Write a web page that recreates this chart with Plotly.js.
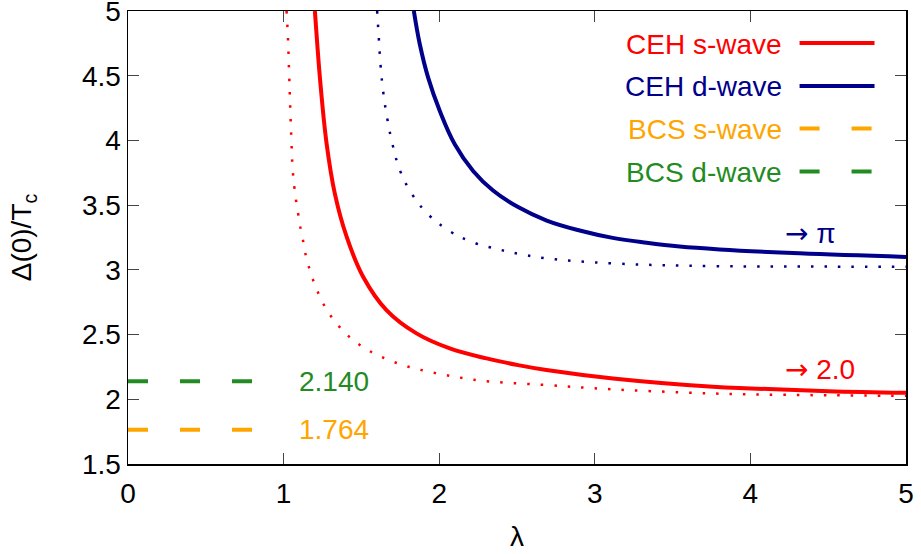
<!DOCTYPE html>
<html>
<head>
<meta charset="utf-8">
<script src="https://cdn.plot.ly/plotly-3.0.1.min.js"></script>
<style>html,body{margin:0;padding:0;background:#fff;}#chart{width:921px;height:554px;}</style>
</head>
<body>
<div id="chart"></div>
<script>
// CEH s-wave (solid red)
const sLam = [1.201, 1.216, 1.233, 1.276, 1.329, 1.405, 1.511, 1.661, 1.854, 2.068, 2.304, 2.507, 2.689, 3.117, 3.76, 4.0, 4.5, 5.0];
const sDel = [5.0, 4.75, 4.49, 3.978, 3.591, 3.256, 2.947, 2.689, 2.509, 2.393, 2.316, 2.264, 2.226, 2.161, 2.097, 2.084, 2.063, 2.05];
// s-wave dotted (red)
const sdLam = [1.019, 1.028, 1.036, 1.044, 1.051, 1.058, 1.070, 1.082, 1.094, 1.105, 1.122, 1.135, 1.156, 1.182, 1.212, 1.246, 1.289, 1.340, 1.398, 1.462, 1.533, 1.608, 1.687, 1.768, 1.850, 1.935, 2.021, 2.104, 2.272, 2.689, 3.117, 3.73, 4.0, 4.5, 5.0];
const sdDel = [5.0, 4.79, 4.5, 4.2, 3.97, 3.78, 3.63, 3.52, 3.43, 3.346, 3.248, 3.153, 3.05, 2.947, 2.852, 2.759, 2.669, 2.587, 2.509, 2.444, 2.386, 2.339, 2.298, 2.264, 2.236, 2.213, 2.192, 2.174, 2.143, 2.110, 2.077, 2.046, 2.038, 2.031, 2.027];
// CEH d-wave (solid blue)
const dLam = [1.837, 1.875, 1.929, 2.004, 2.100, 2.218, 2.346, 2.507, 2.691, 2.903, 3.115, 3.333, 3.545, 3.802, 4.316, 5.0];
const dDel = [5.0, 4.745, 4.485, 4.227, 3.97, 3.764, 3.613, 3.485, 3.381, 3.304, 3.247, 3.209, 3.180, 3.158, 3.128, 3.10];
// d-wave dotted (blue)
const ddLam = [1.601, 1.612, 1.623, 1.640, 1.666, 1.700, 1.747, 1.822, 1.929, 2.064, 2.218, 2.383, 2.466, 2.689, 3.117, 3.76, 4.5, 5.0];
const ddDel = [5.0, 4.79, 4.583, 4.376, 4.17, 3.97, 3.771, 3.591, 3.429, 3.302, 3.212, 3.158, 3.135, 3.089, 3.05, 3.029, 3.025, 3.024];
// BCS values
const bcsLam = [0, 0.8];
const bcsS = 1.764;
const bcsD = 2.140;
const legendNames = ["CEH s-wave", "CEH d-wave", "BCS s-wave", "BCS d-wave"];
const xTicks = [0, 1, 2, 3, 4, 5];
const yTicks = [1.5, 2, 2.5, 3, 3.5, 4, 4.5, 5];

const RED = "#ff0000", BLUE = "#00008b", ORANGE = "#ffa500", GREEN = "#228b22";
const FONT = "Liberation Sans, Arial, sans-serif";
const FS = 28;
const SM = 1.1;

const traces = [
  {x: sdLam, y: sdDel, mode: "lines", line: {color: RED, width: 2.5, dash: "2.5px,11px", shape: "spline", smoothing: SM}, showlegend: false},
  {x: ddLam, y: ddDel, mode: "lines", line: {color: BLUE, width: 2.5, dash: "2.5px,11px", shape: "spline", smoothing: SM}, showlegend: false},
  {x: sLam, y: sDel, mode: "lines", line: {color: RED, width: 4, shape: "spline", smoothing: SM}, name: legendNames[0], showlegend: false},
  {x: dLam, y: dDel, mode: "lines", line: {color: BLUE, width: 4, shape: "spline", smoothing: SM}, name: legendNames[1], showlegend: false},
  {x: bcsLam, y: [bcsS, bcsS], mode: "lines", line: {color: ORANGE, width: 4, dash: "20px,32px"}, name: legendNames[2], showlegend: false},
  {x: bcsLam, y: [bcsD, bcsD], mode: "lines", line: {color: GREEN, width: 4, dash: "20px,32px"}, name: legendNames[3], showlegend: false}
];

const legColors = [RED, BLUE, ORANGE, GREEN];
const legY = [43, 86, 128.5, 171.5];
const W = 921, H = 554;
const ml = 128, mr = 14.5, mt = 11, mb = 90;
const pw = W - ml - mr, ph = H - mt - mb;
function px(xp) { return (xp - ml) / pw; }
function py(yp) { return 1 - (yp - mt) / ph; }

const ARROW = "<span style='font-family:DejaVu Sans'>→</span> ";
const annotations = [];
const shapes = [];
legendNames.forEach((n, i) => {
  annotations.push({xref: "paper", yref: "paper", x: px(784), y: py(legY[i] + 1), xanchor: "right", yanchor: "middle",
    text: n, showarrow: false, font: {family: FONT, size: FS, color: legColors[i]}});
  shapes.push({type: "line", xref: "paper", yref: "paper", x0: px(800), x1: px(875), y0: py(legY[i]), y1: py(legY[i]),
    line: {color: legColors[i], width: 4, dash: i >= 2 ? "20px,32px" : "solid"}});
});
annotations.push({xref: "paper", yref: "paper", x: px(783), y: py(233), xanchor: "left", yanchor: "middle", text: ARROW + "π", showarrow: false, font: {family: FONT, size: FS, color: BLUE}});
annotations.push({xref: "paper", yref: "paper", x: px(783), y: py(369), xanchor: "left", yanchor: "middle", text: ARROW + "2.0", showarrow: false, font: {family: FONT, size: FS, color: RED}});
annotations.push({xref: "paper", yref: "y", x: px(297), y: bcsD, xanchor: "left", yanchor: "middle", text: bcsD.toFixed(3), showarrow: false, font: {family: FONT, size: FS, color: GREEN}});
annotations.push({xref: "paper", yref: "y", x: px(297), y: bcsS, xanchor: "left", yanchor: "middle", text: bcsS.toFixed(3), showarrow: false, font: {family: FONT, size: FS, color: ORANGE}});

const axisCommon = {
  showgrid: false, zeroline: false, showline: true, linecolor: "#000", linewidth: 1.5, mirror: "ticks",
  ticks: "inside", ticklen: 11, tickwidth: 1, tickcolor: "#444", ticklabeloverflow: "allow",
  tickfont: {family: FONT, size: FS, color: "#000"}
};

const layout = {
  width: W, height: H,
  margin: {l: ml, r: mr, t: mt, b: mb, pad: 0},
  paper_bgcolor: "#fff", plot_bgcolor: "#fff",
  font: {family: FONT, size: FS, color: "#000"},
  xaxis: Object.assign({}, axisCommon, {range: [0, 5], tickvals: xTicks, ticktext: xTicks.map(String), ticklabelstandoff: 4,
    title: {text: "λ", font: {family: FONT, size: FS}, standoff: 18}}),
  yaxis: Object.assign({}, axisCommon, {range: [1.5, 5], tickvals: yTicks, ticktext: yTicks.map(String),
    title: {text: "Δ(0)/T<sub>c</sub>", font: {family: FONT, size: FS}, standoff: 42}}),
  annotations: annotations,
  shapes: shapes,
  showlegend: false
};

Plotly.newPlot("chart", traces, layout, {displayModeBar: false, staticPlot: true});
</script>
</body>
</html>
